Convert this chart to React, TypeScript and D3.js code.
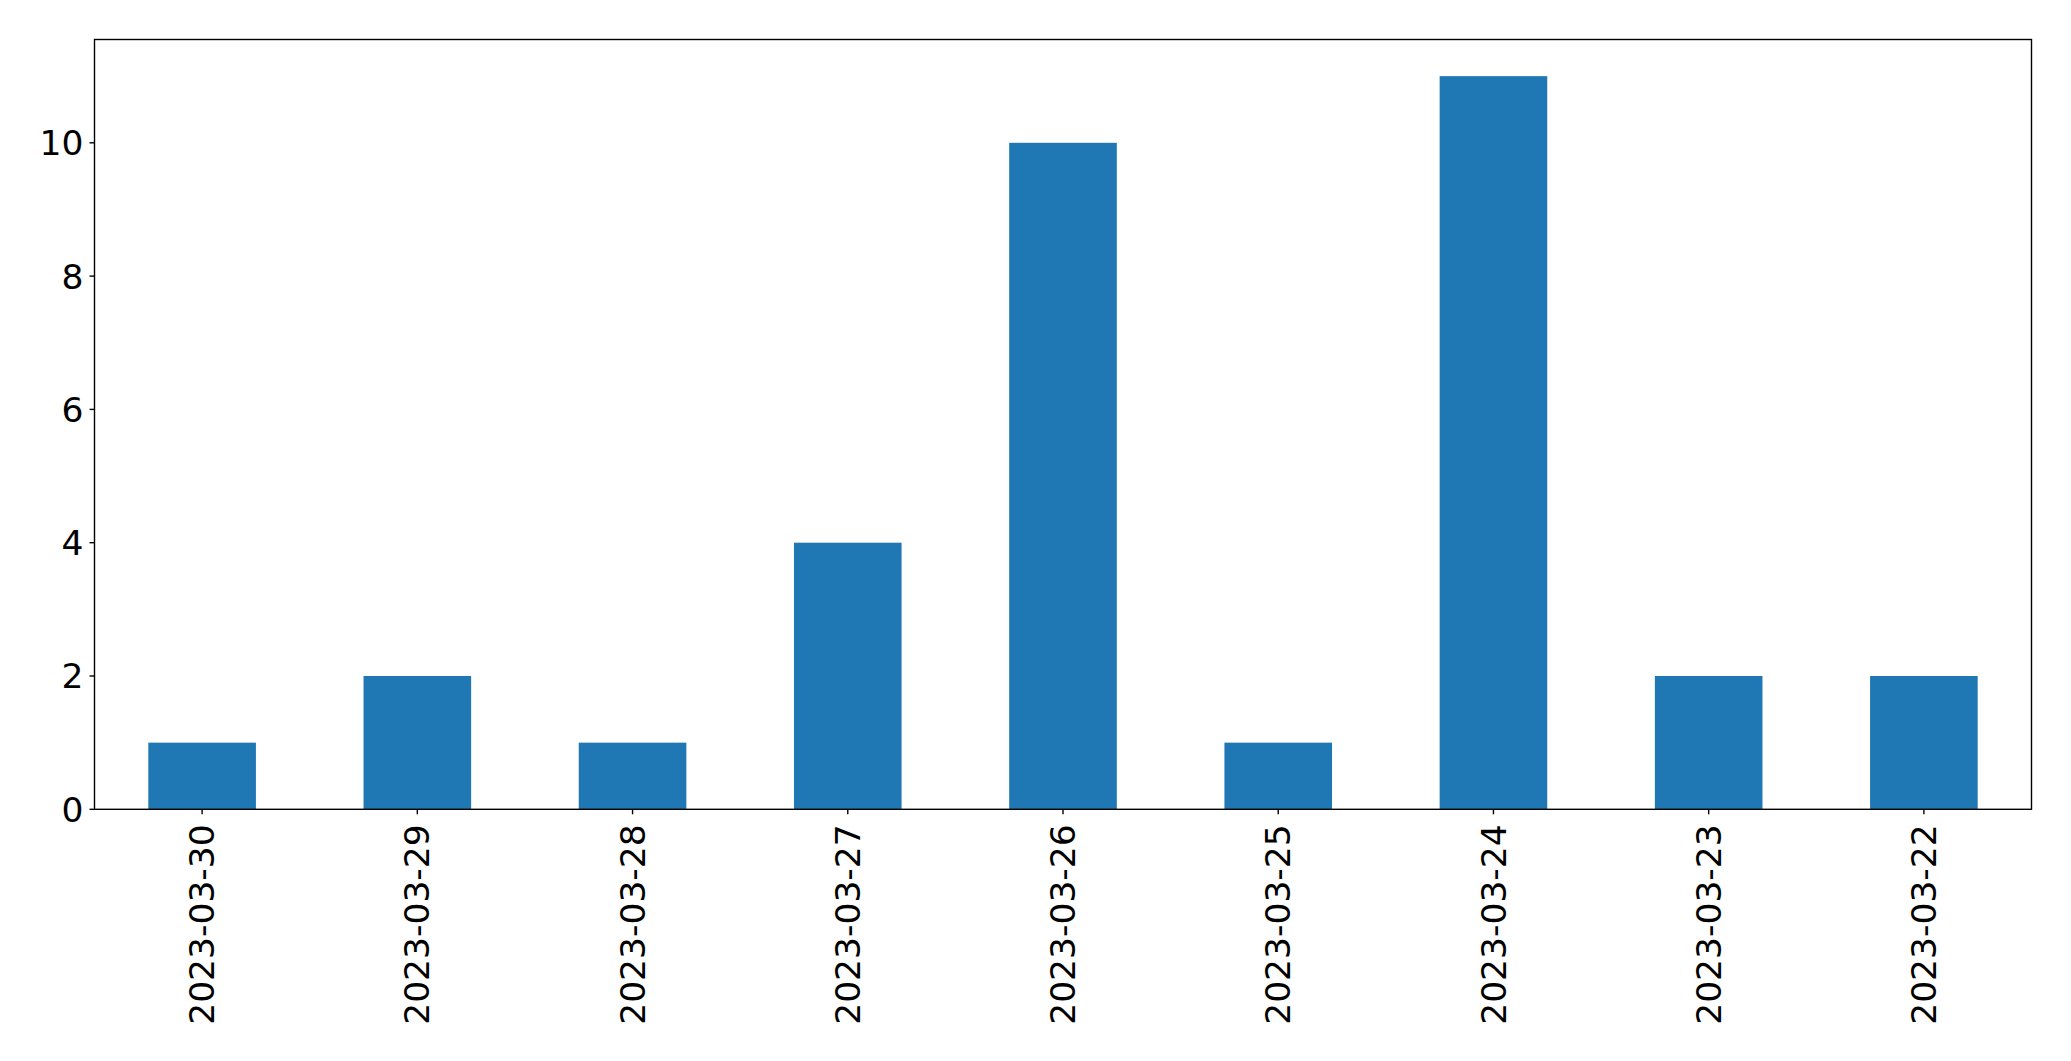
import React from "react";
import * as d3 from "d3";

const categories = ["2023-03-30","2023-03-29","2023-03-28","2023-03-27","2023-03-26","2023-03-25","2023-03-24","2023-03-23","2023-03-22"];
const values = [1, 2, 1, 4, 10, 1, 11, 2, 2];
const yTicks = [0, 2, 4, 6, 8, 10];

const W = 2071, H = 1061;
const M = { left: 94.5, right: 2031.5, top: 39.5, bottom: 809.3 };
const FONT = "DejaVu Sans, sans-serif";
const FS = 34.5;

export default function App() {
  const x = d3.scaleBand<string>().domain(categories).range([M.left, M.right]).paddingInner(0.5).paddingOuter(0.25);
  const ymax = d3.max(values)! * 1.05;
  const y = d3.scaleLinear().domain([0, ymax]).range([M.bottom, M.top]);
  return (
    <svg width={W} height={H} style={{ position: "absolute", left: 0, top: 0, background: "#fff" }}>
      <rect x={0} y={0} width={W} height={H} fill="#fff" />
      {values.map((v, i) => (
        <rect key={i} x={x(categories[i])} y={y(v)} width={x.bandwidth()} height={y(0) - y(v)} fill="#1f77b4" />
      ))}
      <rect x={M.left} y={M.top} width={M.right - M.left} height={M.bottom - M.top} fill="none" stroke="#000" strokeWidth={1.4} />
      {yTicks.map(t => (
        <g key={t}>
          <line x1={M.left - 5} x2={M.left} y1={y(t)} y2={y(t)} stroke="#000" strokeWidth={1.4} />
          <text x={M.left - 11} y={y(t)} dy="0.36em" textAnchor="end" fontFamily={FONT} fontSize={FS} fill="#000">{t}</text>
        </g>
      ))}
      {categories.map(c => {
        const cx = x(c)! + x.bandwidth() / 2;
        return (
          <g key={c}>
            <line x1={cx} x2={cx} y1={M.bottom} y2={M.bottom + 5} stroke="#000" strokeWidth={1.4} />
            <text transform={`translate(${cx},${M.bottom + 15}) rotate(-90)`} dy="0.35em" textAnchor="end" fontFamily={FONT} fontSize={FS} fill="#000">{c}</text>
          </g>
        );
      })}
    </svg>
  );
}
